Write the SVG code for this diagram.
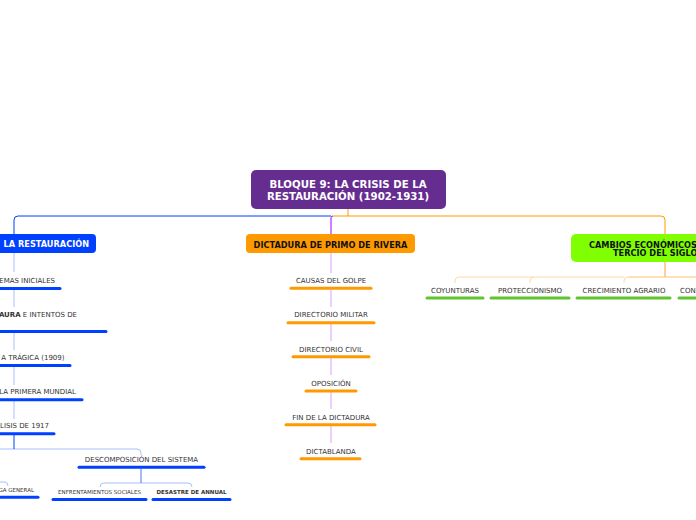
<svg xmlns="http://www.w3.org/2000/svg" width="696" height="520" viewBox="0 0 696 520">
<style>
.t{font-family:"DejaVu Sans",Verdana,sans-serif;font-size:7px;fill:#333}
.ts{font-family:"DejaVu Sans",Verdana,sans-serif;font-size:5.5px;fill:#333}
.b{font-weight:bold}
.h{font-family:"DejaVu Sans",Verdana,sans-serif;font-weight:bold;font-size:8.2px}
.c{fill:none;stroke-width:1}
.ub{stroke:#0040ff;stroke-width:3;stroke-linecap:round}
.uo{stroke:#ff9900;stroke-width:3;stroke-linecap:round}
.ug{stroke:#5ec52e;stroke-width:3;stroke-linecap:round}
</style>
<rect width="696" height="520" fill="#fff"/>
<g id="connectors">
<path class="c" stroke="#ff9900" d="M348,209 V216 M333,216 H661 Q665,216 665,220 V234"/>
<path class="c" stroke="#0040ff" d="M331,216 H18 Q14,216 14,220 V234"/>
<path class="c" stroke="#a000ff" d="M333,216 Q331,216 331,218 V234"/>
<path class="c" stroke="#a9bfff" d="M14,253 V272 M14,290 V307 M14,333 V350 M14,367 V385 M14,401 V419 M0,449 H137 Q141,449 141,453 V455 M100,487 Q100,483 104,483 H188 Q192,483 192,487 M0,482 H5 Q8,482 8,486"/>
<path class="c" stroke="#0040ff" d="M14,435 V449"/>
<path class="c" stroke="#5070ff" d="M141,469 V483"/>
<path class="c" stroke="#dca0ff" d="M331,253 V273 M331,290 V307 M331,324 V341 M331,358 V375 M331,392 V409 M331,426 V443"/>
<path class="c" stroke="#ffa030" d="M665,262 V277"/>
<path class="c" stroke="#ffd9a6" d="M455,283 V281 Q455,277 459,277 H624 M530,283 V281 Q530,277 534,277 M624,283 V281 Q624,277 628,277"/>
<path class="c" stroke="#ffc070" d="M628,277 H696"/>
</g>
<g id="root">
<rect x="251" y="170" width="195" height="39" rx="5" fill="#662d91"/>
<text x="348" y="188" text-anchor="middle" font-family="DejaVu Sans,Verdana,sans-serif" font-weight="bold" font-size="10.2" fill="#fff">BLOQUE 9: LA CRISIS DE LA</text>
<text x="348" y="199.5" text-anchor="middle" font-family="DejaVu Sans,Verdana,sans-serif" font-weight="bold" font-size="10.2" fill="#fff">RESTAURACIÓN (1902-1931)</text>
</g>
<g id="n-restauracion">
<rect x="-40" y="234" width="136" height="19" rx="4" fill="#0040ff"/>
<text x="89" y="247" text-anchor="end" class="h" fill="#fff">LA RESTAURACIÓN</text>
</g>
<g id="n-l1"><text x="55" y="282.7" text-anchor="end" class="t">EMAS INICIALES</text><line class="ub" x1="-5" y1="288.5" x2="60" y2="288.5"/></g>
<g id="n-l2"><text x="77" y="317" text-anchor="end" class="t"><tspan class="b">AURA</tspan> E INTENTOS DE</text><line class="ub" x1="-5" y1="331.5" x2="106" y2="331.5"/></g>
<g id="n-l3"><text x="64.5" y="359.5" text-anchor="end" class="t">A TRÁGICA (1909)</text><line class="ub" x1="-5" y1="365.5" x2="70" y2="365.5"/></g>
<g id="n-l4"><text x="76" y="394" text-anchor="end" class="t">LA PRIMERA MUNDIAL</text><line class="ub" x1="-5" y1="399.7" x2="82" y2="399.7"/></g>
<g id="n-l5"><text x="49" y="428" text-anchor="end" class="t">LISIS DE 1917</text><line class="ub" x1="-5" y1="433.7" x2="54" y2="433.7"/></g>
<g id="n-descomp"><text x="141.5" y="462" text-anchor="middle" class="t">DESCOMPOSICIÓN DEL SISTEMA</text><line class="ub" x1="79" y1="467.3" x2="204" y2="467.3"/></g>
<g id="n-huelga"><text x="34" y="492" text-anchor="end" class="ts">GA GENERAL</text><line class="ub" x1="-5" y1="497.3" x2="38" y2="497.3"/></g>
<g id="n-enfrent"><text x="99.5" y="493.7" text-anchor="middle" class="ts">ENFRENTAMIENTOS SOCIALES</text><line class="ub" x1="53" y1="499.5" x2="146" y2="499.5"/></g>
<g id="n-annual"><text x="191.5" y="493.7" text-anchor="middle" class="ts b">DESASTRE DE ANNUAL</text><line class="ub" x1="153" y1="499.5" x2="230" y2="499.5"/></g>
<g id="n-dictadura">
<rect x="246" y="234" width="169" height="19" rx="4" fill="#ff9900"/>
<text x="330.5" y="247.5" text-anchor="middle" class="h" fill="#111">DICTADURA DE PRIMO DE RIVERA</text>
</g>
<g id="n-m1"><text x="331" y="282.7" text-anchor="middle" class="t">CAUSAS DEL GOLPE</text><line class="uo" x1="291" y1="288.3" x2="371" y2="288.3"/></g>
<g id="n-m2"><text x="331" y="317" text-anchor="middle" class="t">DIRECTORIO MILITAR</text><line class="uo" x1="288" y1="322.7" x2="374" y2="322.7"/></g>
<g id="n-m3"><text x="331" y="351.7" text-anchor="middle" class="t">DIRECTORIO CIVIL</text><line class="uo" x1="293" y1="356.7" x2="369" y2="356.7"/></g>
<g id="n-m4"><text x="331" y="385.5" text-anchor="middle" class="t">OPOSICIÓN</text><line class="uo" x1="306" y1="391" x2="356" y2="391"/></g>
<g id="n-m5"><text x="331" y="419.7" text-anchor="middle" class="t">FIN DE LA DICTADURA</text><line class="uo" x1="286" y1="424.7" x2="375" y2="424.7"/></g>
<g id="n-m6"><text x="331" y="453.7" text-anchor="middle" class="t">DICTABLANDA</text><line class="uo" x1="301" y1="458.7" x2="360" y2="458.7"/></g>
<g id="n-cambios">
<rect x="571" y="234" width="180" height="28" rx="5" fill="#80ff00"/>
<text x="589" y="247.5" class="h" fill="#111">CAMBIOS ECONÓMICOS</text>
<text x="613" y="256" class="h" fill="#111">TERCIO DEL SIGLO</text>
</g>
<g id="n-r1"><text x="455" y="292.7" text-anchor="middle" class="t">COYUNTURAS</text><line class="ug" x1="427" y1="298" x2="483" y2="298"/></g>
<g id="n-r2"><text x="530" y="292.7" text-anchor="middle" class="t">PROTECCIONISMO</text><line class="ug" x1="491" y1="298" x2="569" y2="298" stroke="#7cd356"/></g>
<g id="n-r3"><text x="624" y="292.7" text-anchor="middle" class="t">CRECIMIENTO AGRARIO</text><line class="ug" x1="577" y1="298" x2="670" y2="298"/></g>
<g id="n-r4"><text x="680" y="292.7" class="t">CON</text><line class="ug" x1="679" y1="298" x2="700" y2="298"/></g>
</svg>
